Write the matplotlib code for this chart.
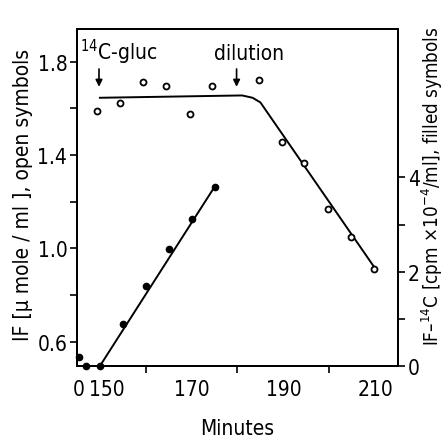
import matplotlib
matplotlib.use("Agg")
import matplotlib.pyplot as plt

plt.rcParams["font.family"] = ["DejaVu Sans"]
plt.rcParams["font.stretch"] = "condensed"
plt.rcParams["mathtext.fontset"] = "custom"
plt.rcParams["mathtext.rm"] = "DejaVu Sans:stretch=condensed"
plt.rcParams["mathtext.it"] = "DejaVu Sans:stretch=condensed"

# open symbols: IF (umole/ml), left axis
t_open = [149.4, 154.4, 159.4, 164.4, 169.6, 174.4, 184.6, 189.6, 194.4, 199.8, 204.8, 209.8]
if_open = [1.59, 1.624, 1.714, 1.697, 1.577, 1.697, 1.719, 1.457, 1.367, 1.17, 1.05, 0.913]
# fitted line through open symbols
t_fit_open = [150, 181, 183.3, 185, 210]
if_fit_open = [1.645, 1.655, 1.645, 1.625, 0.915]

# filled symbols: IF-14C (cpm x 1e-4 / ml), right axis
t_filled = [145.4, 147.0, 150, 155, 160, 165, 170, 175]
c14_filled = [0.19, 0.0, 0.0, 0.89, 1.70, 2.49, 3.11, 3.79]
t_fit_filled = [150, 175]
c14_fit_filled = [0.0, 3.8]

fig = plt.figure(figsize=(4.44, 4.39), dpi=100)
ax = fig.add_axes([0.1734, 0.164, 0.723, 0.768])
ax2 = ax.twinx()

fs = 15
ax.plot(t_fit_open, if_fit_open, color="black", lw=1.4)
ax.plot(t_open, if_open, "o", ms=4.3, mfc="white", mec="black", mew=1.3, clip_on=False)
ax2.plot(t_fit_filled, c14_fit_filled, color="black", lw=1.4)
ax2.plot(t_filled, c14_filled, "o", ms=4.5, color="black", clip_on=False)

ax.set_xlim(145, 215)
ax.set_ylim(0.497, 1.94)
ax2.set_ylim(0, 7.15)

ax.set_xticks([145.3, 151.5, 170, 190, 210], labels=["0", "150", "170", "190", "210"])
ax.set_xticks([160, 170, 180, 190, 200, 210], minor=True)
ax.tick_params(axis="x", which="major", length=0, pad=9, labelsize=fs)
ax.tick_params(axis="x", which="minor", length=5, width=1.2)

ax.set_yticks([0.6, 1.0, 1.4, 1.8], labels=["0.6", "1.0", "1.4", "1.8"])
ax.set_yticks([0.8, 1.2, 1.6], minor=True)
ax.tick_params(axis="y", which="both", length=5, width=1.2, labelsize=fs, pad=2)

ax2.set_yticks([0, 2, 4])
ax2.set_yticks([1, 3], minor=True)
ax2.tick_params(axis="y", which="both", length=5, width=1.2, labelsize=fs, pad=2)

for a in (ax, ax2):
    for s in a.spines.values():
        s.set_linewidth(1.4)

ax.set_xlabel("Minutes", fontsize=fs, labelpad=14)
ax.set_ylabel("IF [\u03bc mole / ml ], open symbols", fontsize=15)
ax.yaxis.set_label_coords(-0.137, 0.51)
ax2.set_ylabel("IF\u2013$^{14}$C [cpm \u00d710$^{-4}$/ml], filled symbols", fontsize=13.5,
               rotation=90)
ax2.yaxis.set_label_coords(1.068, 0.535)

# annotations
ax.text(145.6, 1.81, "$^{14}$C-gluc", fontsize=fs, ha="left", va="baseline")
ax.annotate("", xy=(149.8, 1.68), xytext=(149.8, 1.78),
            arrowprops=dict(arrowstyle="-|>", color="black", lw=1.2, mutation_scale=10))
ax.text(182.5, 1.81, "dilution", fontsize=fs, ha="center", va="baseline")
ax.annotate("", xy=(179.8, 1.68), xytext=(179.8, 1.78),
            arrowprops=dict(arrowstyle="-|>", color="black", lw=1.2, mutation_scale=10))

fig.savefig("out.png", dpi=100)
